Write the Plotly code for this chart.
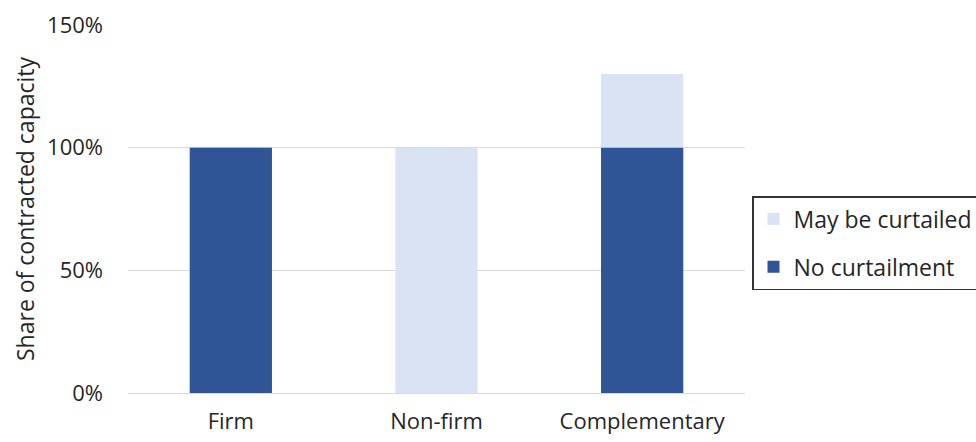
import plotly.graph_objects as go

categories = ["Firm", "Non-firm", "Complementary"]
no_curtailment = [1.00, 0.0, 1.00]
may_be_curtailed = [0.0, 1.00, 0.30]
tick_vals = [0, 0.5, 1.0, 1.5]
tick_text = ["0%", "50%", "100%", "150%"]
y_title = "Share of contracted capacity"

DARK = "#2F5597"
LIGHT = "#DAE3F3"
FONT = "Open Sans"

fig = go.Figure()
fig.add_trace(go.Bar(x=categories, y=may_be_curtailed, base=no_curtailment,
                     name="May be curtailed",
                     marker=dict(color=LIGHT, line=dict(width=0)), legendgroup="a"))
fig.add_trace(go.Bar(x=categories, y=no_curtailment, name="No curtailment",
                     marker=dict(color=DARK, line=dict(width=0)), legendgroup="b"))

fig.add_annotation(text=y_title, xref="paper", yref="paper",
                   x=(25 - 128) / 617, y=0.5, xanchor="center", yanchor="middle",
                   textangle=-90, showarrow=False,
                   font=dict(family=FONT, size=23, color="#262626"))

fig.update_layout(
    width=976, height=442,
    barmode="overlay", bargap=0.6,
    plot_bgcolor="white", paper_bgcolor="white",
    margin=dict(l=128, r=231, t=25, b=49, autoexpand=False),
    font=dict(family=FONT, color="#262626", size=16),
    legend=dict(
        xref="container", yref="container",
        x=0.7705, y=1 - 196 / 442, xanchor="left", yanchor="top",
        traceorder="grouped", tracegroupgap=15,
        bordercolor="#333333", borderwidth=1.5,
        font=dict(family=FONT, size=23, color="#262626"),
        itemwidth=30,
    ),
    xaxis=dict(showgrid=False, showline=True, linecolor="#D9D9D9", linewidth=1,
               tickfont=dict(size=22), ticks="", ticklabelstandoff=9, automargin=False),
    yaxis=dict(range=[0, 1.5], tickvals=tick_vals, ticktext=tick_text,
               showgrid=True, gridcolor="#D9D9D9", gridwidth=1,
               zeroline=False, showline=False, ticks="", automargin=False,
               tickfont=dict(size=22), ticklabelstandoff=24),
)

fig.write_html("out.html")
